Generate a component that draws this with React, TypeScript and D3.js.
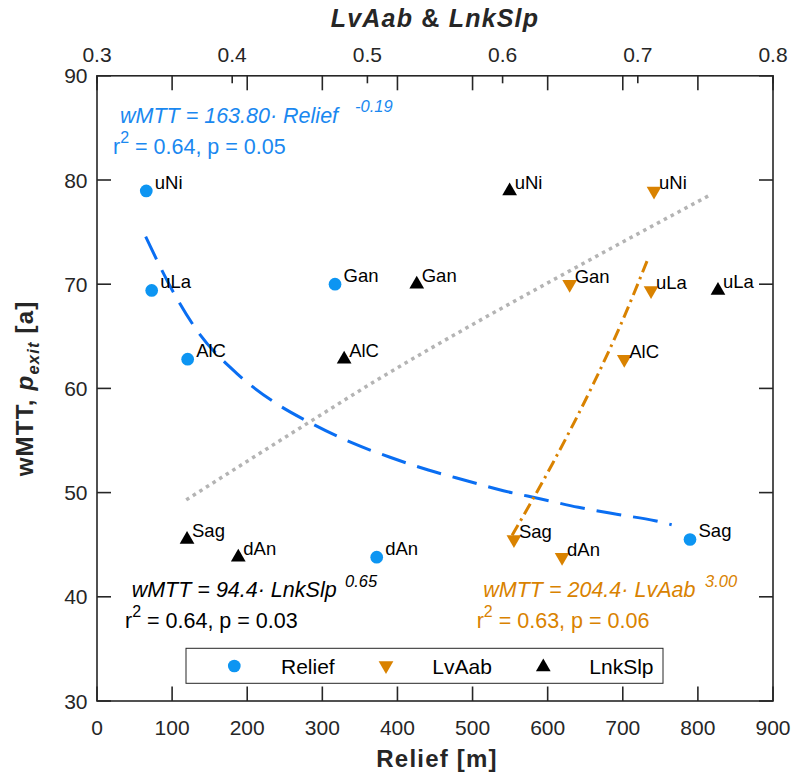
import React from 'react';
import * as d3 from 'd3';

// ---------- data ----------
const sites = ['uNi', 'uLa', 'AlC', 'Gan', 'dAn', 'Sag'];
const wMTT = [78.95, 69.4, 62.8, 70.0, 43.8, 45.5];
const relief = [65.6, 72.8, 120.7, 316.9, 372.4, 789.5];
const lvAab = [0.712, 0.7098, 0.69, 0.6496, 0.644, 0.6084];
const lnkSlp = [0.6052, 0.7593, 0.4828, 0.5365, 0.4045, 0.3666];

// fitted curves
const reliefFitX = [64.8, 102.5, 132.7, 186.0, 237.0, 288.0, 339.1, 390.1, 441.1, 492.2, 541.0, 591.1, 640.8, 691.9, 742.9, 765.1];
const reliefFitY = [74.56, 69.13, 65.6, 61.45, 58.63, 56.55, 54.79, 53.39, 52.17, 51.14, 50.18, 49.39, 48.59, 47.92, 47.3, 46.92];
const lnkFitX = [0.366, 0.4575, 0.507, 0.576, 0.64, 0.754];
const lnkFitY = [49.3, 56.8, 60.8, 66.0, 70.6, 78.6];
const lvFitX = [0.607, 0.637, 0.667, 0.688, 0.708];
const lvFitY = [45.9, 52.8, 60.4, 66.3, 72.6];

const xTicks = [0, 100, 200, 300, 400, 500, 600, 700, 800, 900];
const xTopTicks = [0.3, 0.4, 0.5, 0.6, 0.7, 0.8];
const yTicks = [30, 40, 50, 60, 70, 80, 90];
const legendLabels = ['Relief', 'LvAab', 'LnkSlp'];

// ---------- layout ----------
const W = 792, H = 776;
const L = 97, R = 773, T = 75.8, B = 701;
const FONT = '"Liberation Sans", Arial, Helvetica, sans-serif';
const AX = '#262626';
const BLUE = '#0D95F2';
const BLUE_LINE = '#0A6EF2';
const BLUE_TXT = '#1A88F0';
const ORANGE = '#D98200';
const GRAY = '#B4B4B4';

const x = d3.scaleLinear().domain([0, 900]).range([L, R]);
const xT = d3.scaleLinear().domain([0.3, 0.8]).range([L, R]);
const y = d3.scaleLinear().domain([30, 90]).range([B, T]);

const circlePath = d3.symbol(d3.symbolCircle, 127)()!;
const triPath = d3.symbol(d3.symbolTriangle, 94)()!;

export default function App() {
  const reliefLine = d3.line<number>().x((_, i) => x(reliefFitX[i])).y((d) => y(d)).curve(d3.curveMonotoneX)(reliefFitY)!;
  const lnkLine = d3.line<number>().x((_, i) => xT(lnkFitX[i])).y((d) => y(d)).curve(d3.curveMonotoneX)(lnkFitY)!;
  const lvLine = d3.line<number>().x((_, i) => xT(lvFitX[i])).y((d) => y(d)).curve(d3.curveMonotoneX)(lvFitY)!;

  const labelStyle = { fontFamily: FONT, fontSize: 18.5, fill: '#000' } as const;

  return (
    <svg width={W} height={H} style={{ position: 'absolute', left: 0, top: 0, background: '#fff' }} fontFamily={FONT}>
      <rect x={0} y={0} width={W} height={H} fill="#fff" />

      {/* fit lines */}
      <path d={lnkLine} fill="none" stroke={GRAY} strokeWidth={3.5} strokeDasharray="3.5 4.3" />
      <path d={reliefLine} fill="none" stroke={BLUE_LINE} strokeWidth={3} strokeDasharray="25 12" />
      <path d={lvLine} fill="none" stroke={ORANGE} strokeWidth={3} strokeDasharray="12 5 2.5 5" />

      {/* Relief points */}
      {sites.map((s, i) => (
        <g key={'r' + s}>
          <path d={circlePath} transform={`translate(${x(relief[i])},${y(wMTT[i])})`} fill={BLUE} />
          <text x={x(relief[i]) + 8.5} y={y(wMTT[i]) - 2} style={labelStyle}>{s}</text>
        </g>
      ))}
      {/* LvAab points */}
      {sites.map((s, i) => (
        <g key={'v' + s}>
          <path d={triPath} transform={`translate(${xT(lvAab[i])},${y(wMTT[i])}) rotate(180)`} fill={ORANGE} />
          <text x={xT(lvAab[i]) + 5} y={y(wMTT[i]) - 1.5} style={labelStyle}>{s}</text>
        </g>
      ))}
      {/* LnkSlp points */}
      {sites.map((s, i) => (
        <g key={'k' + s}>
          <path d={triPath} transform={`translate(${xT(lnkSlp[i])},${y(wMTT[i])})`} fill="#000" />
          <text x={xT(lnkSlp[i]) + 5} y={y(wMTT[i]) - 2.4} style={labelStyle}>{s}</text>
        </g>
      ))}

      {/* equations */}
      <g fontSize={21.5}>
        <text x={120} y={123.3} fill={BLUE_TXT} fontStyle="italic">wMTT = 163.80· Relief</text>
        <text x={355} y={111.7} fill={BLUE_TXT} fontStyle="italic" fontSize={16.5}>-0.19</text>
        <text x={113} y={154} fill={BLUE_TXT}>r<tspan dy={-11} fontSize={16}>2</tspan><tspan dy={11}> = 0.64, p = 0.05</tspan></text>

        <text x={131.7} y={596.7} fill="#000" fontStyle="italic">wMTT = 94.4· LnkSlp</text>
        <text x={345} y={586.5} fill="#000" fontStyle="italic" fontSize={16.5}>0.65</text>
        <text x={125} y={628.3} fill="#000">r<tspan dy={-11} fontSize={16}>2</tspan><tspan dy={11}> = 0.64, p = 0.03</tspan></text>

        <text x={483.3} y={597.3} fill={ORANGE} fontStyle="italic">wMTT = 204.4· LvAab</text>
        <text x={705} y={586.5} fill={ORANGE} fontStyle="italic" fontSize={16.5}>3.00</text>
        <text x={476.7} y={628.3} fill={ORANGE}>r<tspan dy={-11} fontSize={16}>2</tspan><tspan dy={11}> = 0.63, p = 0.06</tspan></text>
      </g>

      {/* axes box */}
      <rect x={L} y={T} width={R - L} height={B - T} fill="none" stroke={AX} strokeWidth={1.6} />
      {/* bottom ticks + mirrored at top */}
      {xTicks.map((t) => (
        <g key={'xt' + t}>
          <line x1={x(t)} x2={x(t)} y1={B} y2={B - 14.5} stroke={AX} strokeWidth={1.6} />
          <line x1={x(t)} x2={x(t)} y1={T} y2={T + 14.5} stroke={AX} strokeWidth={1.6} />
          <text x={x(t)} y={735} textAnchor="middle" fontSize={21} fill={AX}>{t}</text>
        </g>
      ))}
      {/* top axis ticks */}
      {xTopTicks.map((t) => (
        <g key={'xtt' + t}>
          <line x1={xT(t)} x2={xT(t)} y1={T} y2={T + 7.5} stroke={AX} strokeWidth={1.6} />
          <text x={xT(t)} y={61.7} textAnchor="middle" fontSize={21} fill={AX}>{t.toFixed(1)}</text>
        </g>
      ))}
      {/* left ticks + mirrored right */}
      {yTicks.map((t) => (
        <g key={'yt' + t}>
          <line x1={L} x2={L + 14} y1={y(t)} y2={y(t)} stroke={AX} strokeWidth={1.6} />
          <line x1={R} x2={R - 14} y1={y(t)} y2={y(t)} stroke={AX} strokeWidth={1.6} />
          <text x={87.5} y={y(t)} dy="0.36em" textAnchor="end" fontSize={21} fill={AX}>{t}</text>
        </g>
      ))}

      {/* axis labels */}
      <text x={(L + R) / 2 + 2} y={767} textAnchor="middle" fontSize={24} fontWeight="bold" letterSpacing={1.2} fill={AX}>Relief [m]</text>
      <text x={(L + R) / 2} y={27} textAnchor="middle" fontSize={25} fontWeight="bold" letterSpacing={1.2} fill={AX}>
        <tspan fontStyle="italic">LvAab</tspan> &amp; <tspan fontStyle="italic">LnkSlp</tspan>
      </text>
      <text transform={`translate(33,${(T + B) / 2}) rotate(-90)`} textAnchor="middle" fontSize={24} fontWeight="bold" letterSpacing={1.2} fill={AX}>
        wMTT, <tspan fontStyle="italic">p</tspan><tspan fontStyle="italic" fontSize={16.5} dy={6}>exit</tspan><tspan dy={-6}> [a]</tspan>
      </text>

      {/* legend */}
      <rect x={186} y={648.3} width={477} height={35} fill="#fff" stroke={AX} strokeWidth={1} />
      <path d={circlePath} transform="translate(234.3,666)" fill={BLUE} />
      <path d={triPath} transform="translate(386,665.5) rotate(180)" fill={ORANGE} />
      <path d={triPath} transform="translate(543.3,667)" fill="#000" />
      {legendLabels.map((lbl, i) => (
        <text key={lbl} x={[281, 432.3, 589.3][i]} y={673.5} fontSize={21} fill="#000">{lbl}</text>
      ))}
    </svg>
  );
}
